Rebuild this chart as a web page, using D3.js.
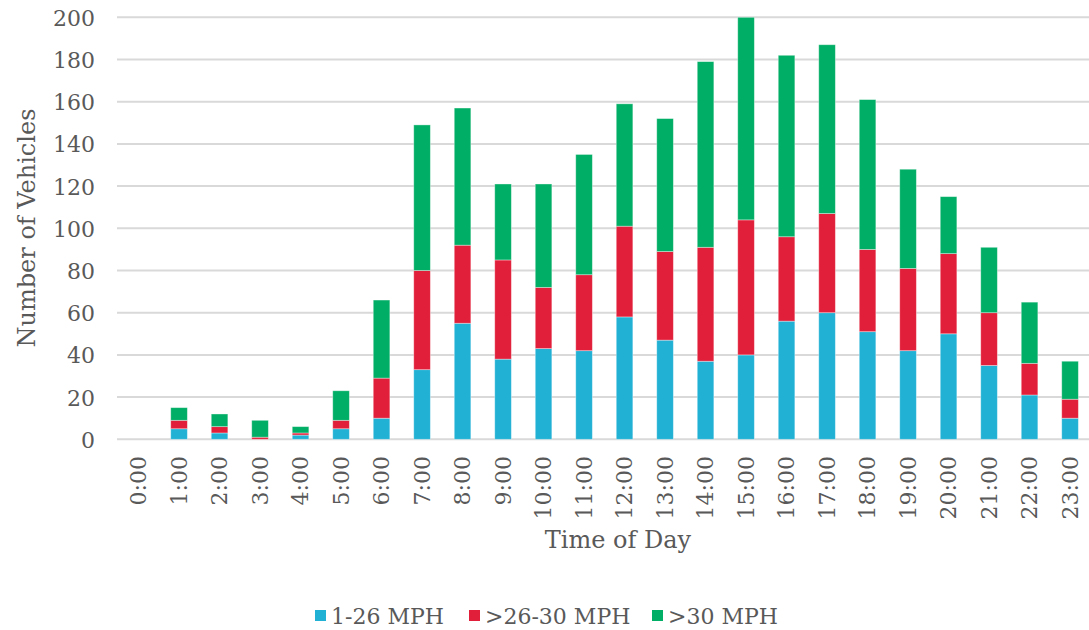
<!DOCTYPE html>
<html>
<head>
<meta charset="utf-8">
<script src="https://cdn.jsdelivr.net/npm/d3@7"></script>
<style>
  html, body { margin: 0; padding: 0; background: #fff; }
  svg { display: block; }
  text { font-family: "DejaVu Serif", serif; fill: #595959; }
</style>
</head>
<body>
<svg id="chart" width="1089" height="630"></svg>
<script>
const hours = ["0:00","1:00","2:00","3:00","4:00","5:00","6:00","7:00","8:00","9:00","10:00","11:00",
               "12:00","13:00","14:00","15:00","16:00","17:00","18:00","19:00","20:00","21:00","22:00","23:00"];
const slow  = [0,5,3,0,2,5,10,33,55,38,43,42,58,47,37,40,56,60,51,42,50,35,21,10];
const mid   = [0,4,3,1,1,4,19,47,37,47,29,36,43,42,54,64,40,47,39,39,38,25,15,9];
const fast  = [0,6,6,8,3,14,37,69,65,36,49,57,58,63,88,96,86,80,71,47,27,31,29,18];
const seriesNames = ["1-26 MPH", ">26-30 MPH", ">30 MPH"];
const seriesColors = ["#21b1d5", "#e21f3a", "#00ae65"];
const yTicks = [0,20,40,60,80,100,120,140,160,180,200];

const svg = d3.select("#chart");

const x = d3.scaleBand().domain(hours).range([118.3, 1090.3]).paddingInner(0.59).paddingOuter(0.295);
const y = d3.scaleLinear().domain([0, 200]).range([439.3, 17.3]);

// gridlines
svg.append("g").selectAll("line").data(yTicks).join("line")
  .attr("x1", 117).attr("x2", 1089)
  .attr("y1", d => y(d)).attr("y2", d => y(d))
  .attr("stroke", "#d9d9d9").attr("stroke-width", 2);

// y axis labels
const yAxis = d3.axisLeft(y).tickValues(yTicks).tickSize(0).tickPadding(0);
const gy = svg.append("g").attr("transform", "translate(95,0)").call(yAxis);
gy.select(".domain").remove();
gy.selectAll("text").style("font-family", "DejaVu Serif, serif").style("font-size", "22px")
  .attr("fill", "#595959").attr("dy", "0.36em");

// stacked data
const rows = hours.map((h, i) => ({hour: h, s0: slow[i], s1: mid[i], s2: fast[i]}));
const stack = d3.stack().keys(["s0","s1","s2"])(rows);

svg.append("g").selectAll("g").data(stack).join("g")
  .attr("fill", (d, i) => seriesColors[i])
  .selectAll("rect").data(d => d).join("rect")
  .attr("x", d => x(d.data.hour))
  .attr("width", x.bandwidth())
  .attr("y", d => y(d[1]))
  .attr("height", d => Math.max(0, y(d[0]) - y(d[1])))
  .attr("stroke", "rgba(255,255,255,0.45)").attr("stroke-width", 0.8);

// x axis labels
const xAxis = d3.axisBottom(x).tickSize(0).tickPadding(0);
const gx = svg.append("g").attr("transform", "translate(0,456)").call(xAxis);
gx.select(".domain").remove();
gx.selectAll("text")
  .style("font-family", "DejaVu Serif, serif").style("font-size", "22px")
  .attr("fill", "#595959")
  .attr("transform", "rotate(-90)")
  .attr("text-anchor", "end")
  .attr("x", 0).attr("y", 0).attr("dy", "0.36em");

// axis titles
svg.append("text").attr("x", 618).attr("y", 548).attr("text-anchor", "middle")
  .style("font-size", "24px").text("Time of Day");
svg.append("text").attr("transform", "translate(35,228) rotate(-90)").attr("text-anchor", "middle")
  .style("font-size", "24px").text("Number of Vehicles");

// legend
const legendX = [315, 469, 652];
const lg = svg.append("g").selectAll("g").data(seriesNames).join("g")
  .attr("transform", (d, i) => `translate(${legendX[i]},616)`);
lg.append("rect").attr("x", 0).attr("y", -6).attr("width", 11).attr("height", 11)
  .attr("fill", (d, i) => seriesColors[i]);
lg.append("text").attr("x", 16).attr("y", 0).attr("dy", "0.36em")
  .style("font-size", "22px").text(d => d);
</script>
</body>
</html>
